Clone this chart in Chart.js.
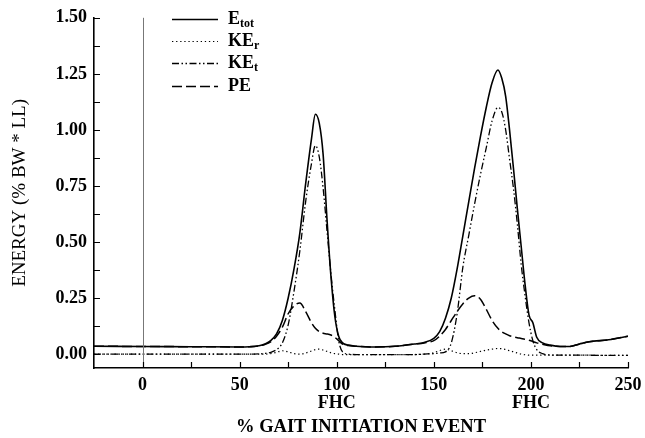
<!DOCTYPE html>
<html>
<head>
<meta charset="utf-8">
<script src="https://cdn.jsdelivr.net/npm/chart.js@4.4.1/dist/chart.umd.min.js"></script>
<style>
  html, body { margin: 0; padding: 0; background: #fff; }
  #wrap { width: 645px; height: 438px; }
</style>
</head>
<body>
<div id="wrap"><canvas id="energyChart" width="645" height="438"></canvas></div>
<script>
const pct = [-25, 0, 25, 50, 55, 60, 63, 66, 69, 72, 75, 78, 81, 84, 87, 89, 91, 93, 95, 97,
  99, 101, 103, 106, 110, 120, 130, 140, 145, 150, 153, 156, 159, 162, 165, 168, 171, 174, 177, 180,
  183, 185, 187, 189, 191, 193, 195, 197, 199, 201, 203, 206, 210, 215, 220, 225, 230, 240, 250];

const eTot = [0.035, 0.034, 0.033, 0.032, 0.033, 0.037, 0.045, 0.06, 0.09, 0.15, 0.25, 0.38, 0.54, 0.76, 0.96, 1.07, 1.03, 0.89, 0.60, 0.35,
  0.17, 0.08, 0.05, 0.04, 0.035, 0.032, 0.035, 0.045, 0.052, 0.07, 0.10, 0.16, 0.25, 0.38, 0.53, 0.68, 0.83, 0.97, 1.10, 1.21,
  1.267, 1.23, 1.15, 1.0, 0.83, 0.65, 0.48, 0.31, 0.175, 0.14, 0.075, 0.05, 0.04, 0.034, 0.034, 0.045, 0.055, 0.064, 0.08];

const keR = [0, 0, 0, 0, 0, 0, 0, 0.002, 0.008, 0.015, 0.01, 0.002, 0, 0.005, 0.014, 0.02, 0.022, 0.018, 0.012, 0.006,
  0.002, 0, -0.002, -0.002, -0.002, -0.002, -0.002, -0.002, 0, 0.006, 0.016, 0.022, 0.015, 0.006, 0.002, 0.002, 0.006, 0.012, 0.018, 0.022,
  0.025, 0.024, 0.02, 0.015, 0.01, 0.005, 0, -0.003, -0.005, -0.005, -0.005, -0.005, -0.005, -0.005, -0.005, -0.005, -0.005, -0.006, -0.006];

const keT = [0, 0, 0, 0, 0, 0.001, 0.003, 0.008, 0.02, 0.05, 0.13, 0.28, 0.46, 0.68, 0.85, 0.93, 0.88, 0.74, 0.55, 0.36,
  0.20, 0.06, 0.01, 0, -0.002, -0.002, -0.002, -0.002, 0, 0.002, 0.005, 0.01, 0.05, 0.18, 0.39, 0.53, 0.67, 0.80, 0.92, 1.04,
  1.10, 1.08, 1.0, 0.87, 0.74, 0.58, 0.40, 0.26, 0.14, 0.06, 0.02, 0.002, -0.004, -0.005, -0.005, -0.005, -0.005, -0.006, -0.006];

const pe = [0.035, 0.034, 0.033, 0.032, 0.033, 0.037, 0.043, 0.055, 0.08, 0.12, 0.18, 0.215, 0.228, 0.19, 0.14, 0.115, 0.10, 0.093, 0.09, 0.085,
  0.075, 0.06, 0.045, 0.038, 0.035, 0.032, 0.035, 0.045, 0.05, 0.06, 0.08, 0.11, 0.15, 0.19, 0.225, 0.25, 0.26, 0.245, 0.20, 0.15,
  0.115, 0.10, 0.09, 0.082, 0.077, 0.073, 0.07, 0.066, 0.062, 0.056, 0.05, 0.044, 0.037, 0.034, 0.034, 0.045, 0.055, 0.064, 0.08];

// legend text: main part + subscript
const seriesNames = ['E', 'KE', 'KE', 'PE'];
const seriesSubs = ['tot', 'r', 't', ''];

// axis ticks (marks) and the ones that get a number
const xTicks = [0, 25, 50, 75, 100, 125, 150, 175, 200, 225, 250];
const xLabels = ['0', '50', '100', '150', '200', '250'];
const fhcTicks = [100, 200];
const yTicks = [0, 0.125, 0.25, 0.375, 0.5, 0.625, 0.75, 0.875, 1, 1.125, 1.25, 1.375, 1.5];
const yLabels = ['0.00', '0.25', '0.50', '0.75', '1.00', '1.25', '1.50'];

const serif = '"Liberation Serif", "DejaVu Serif", serif';

function pts(arr) {
  return pct.map((x, i) => ({ x: x, y: arr[i] }));
}

const styles = [
  { dash: [], width: 1.6 },
  { dash: [1.3, 2.8], width: 1.2 },
  { dash: [7, 2.5, 1.5, 2.5, 1.5, 2.5], width: 1.3 },
  { dash: [10, 4], width: 1.5 }
];

const seriesData = [eTot, keR, keT, pe];

const datasets = seriesData.map((arr, i) => ({
  label: seriesNames[i] + seriesSubs[i],
  data: pts(arr),
  borderColor: '#000',
  borderWidth: styles[i].width,
  borderDash: styles[i].dash,
  pointRadius: 0,
  fill: false,
  cubicInterpolationMode: 'monotone'
}));

// zero line, inward tick marks, FHC notes, x numbers and the legend
const extras = {
  id: 'extras',
  afterDraw(chart) {
    const c = chart.ctx;
    const xs = chart.scales.x, ys = chart.scales.y;
    const area = chart.chartArea;
    c.save();
    // thin line at 0
    const x0 = xs.getPixelForValue(0);
    c.strokeStyle = '#777';
    c.lineWidth = 1;
    c.beginPath();
    c.moveTo(Math.round(x0) + 0.5, area.top);
    c.lineTo(Math.round(x0) + 0.5, area.bottom);
    c.stroke();

    // ticks
    c.strokeStyle = '#000';
    c.lineWidth = 1.2;
    c.beginPath();
    xTicks.forEach(v => {
      const px = Math.round(xs.getPixelForValue(v)) + 0.5;
      c.moveTo(px, area.bottom);
      c.lineTo(px, area.bottom - 6);
    });
    yTicks.forEach(v => {
      const py = Math.round(ys.getPixelForValue(v)) + 0.5;
      c.moveTo(area.left, py);
      c.lineTo(area.left + 6, py);
    });
    c.stroke();

    // FHC under 100 and 200, then the numbers
    c.fillStyle = '#000';
    c.font = 'bold 18px ' + serif;
    c.textAlign = 'center';
    c.textBaseline = 'alphabetic';
    fhcTicks.forEach(v => {
      c.fillText('FHC', xs.getPixelForValue(v), area.bottom + 40);
    });
    xLabels.forEach(t => {
      c.fillText(t, xs.getPixelForValue(Number(t)), area.bottom + 22);
    });

    // legend
    const lx = 172, lw = 46, tx = 228;
    const rows = [19, 41, 63, 86];
    c.textBaseline = 'middle';
    chart.data.datasets.forEach((ds, i) => {
      const y = rows[i];
      c.strokeStyle = '#000';
      c.lineWidth = ds.borderWidth;
      c.setLineDash(ds.borderDash);
      c.beginPath();
      c.moveTo(lx, y + 0.5);
      c.lineTo(lx + lw, y + 0.5);
      c.stroke();
      c.setLineDash([]);
      c.textAlign = 'left';
      c.font = 'bold 18px ' + serif;
      c.fillText(seriesNames[i], tx, y);
      const w = c.measureText(seriesNames[i]).width;
      if (seriesSubs[i]) {
        c.font = 'bold 12px ' + serif;
        c.fillText(seriesSubs[i], tx + w, y + 5);
      }
    });
    c.restore();
  }
};

new Chart(document.getElementById('energyChart'), {
  type: 'line',
  data: { datasets: datasets },
  options: {
    responsive: false,
    animation: false,
    layout: { padding: { top: 17, right: 17, left: 0, bottom: 0 } },
    plugins: {
      legend: { display: false },
      tooltip: { enabled: false }
    },
    scales: {
      x: {
        type: 'linear',
        min: -25,
        max: 250,
        afterFit: s => { s.height = 70; },
        grid: { display: false, drawTicks: false },
        border: { display: true, color: '#000', width: 1.6 },
        ticks: { display: false },
        title: {
          display: true,
          text: '% GAIT INITIATION EVENT',
          color: '#000',
          font: { family: serif, size: 18.5, weight: 'bold' },
          padding: { top: 0, bottom: 0 }
        }
      },
      y: {
        min: -0.062,
        max: 1.5,
        afterBuildTicks: s => { s.ticks = yLabels.map(t => ({ value: Number(t) })); },
        afterFit: s => { s.width = 94; },
        grid: { display: false, drawTicks: false },
        border: { display: true, color: '#000', width: 1.6 },
        ticks: {
          autoSkip: false,
          padding: 7,
          color: '#000',
          font: { family: serif, size: 18, weight: 'bold' },
          callback: (v, i) => yLabels[i]
        },
        title: {
          display: true,
          text: 'ENERGY (% BW * LL)',
          color: '#000',
          font: { family: serif, size: 19 },
          padding: { top: 9, bottom: 0 }
        }
      }
    }
  },
  plugins: [extras]
});
</script>
</body>
</html>
